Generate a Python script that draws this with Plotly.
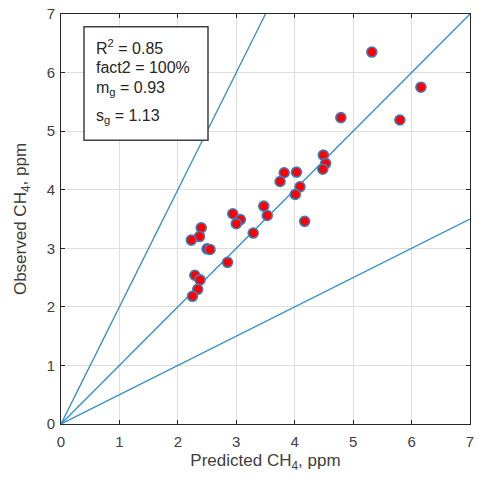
import plotly.graph_objects as go

# Data
predicted = [4.49, 4.53, 4.48, 3.82, 4.03, 3.75, 4.09, 4.01, 4.17, 3.47, 3.53, 2.94, 3.07, 3.00,
             3.29, 2.40, 2.37, 2.23, 2.50, 2.55, 2.85, 2.29, 2.38, 2.34, 2.25, 5.32, 6.16, 4.79, 5.80]
observed = [4.59, 4.45, 4.35, 4.29, 4.30, 4.14, 4.05, 3.92, 3.46, 3.72, 3.56, 3.59, 3.49, 3.42,
            3.26, 3.35, 3.20, 3.14, 2.99, 2.98, 2.76, 2.54, 2.46, 2.30, 2.18, 6.35, 5.75, 5.23, 5.19]
ref_slopes = [1.0, 2.0, 0.5]
axis_max = 7
ticks = list(range(0, 8))
stats_lines = ["R<sup>2</sup> = 0.85", "fact2 = 100%", "m<sub>g</sub> = 0.93", "s<sub>g</sub> = 1.13"]

line_color = "#2f8ccd"
font_family = "Liberation Sans, Arial, sans-serif"
fig = go.Figure()

for s in ref_slopes:
    xe = min(axis_max, axis_max / s)
    fig.add_trace(go.Scatter(x=[0, xe], y=[0, s * xe], mode="lines",
                             line=dict(color=line_color, width=1.3), showlegend=False,
                             hoverinfo="skip"))

fig.add_trace(go.Scatter(x=predicted, y=observed, mode="markers",
                         marker=dict(size=10, color="#ff0000",
                                     line=dict(color="#3a7fc0", width=1.6)),
                         showlegend=False))

axis_common = dict(range=[0, axis_max], tickvals=ticks, showgrid=True, gridcolor="#dedede",
                   gridwidth=1, showline=True, linecolor="#262626", linewidth=1, mirror="ticks",
                   ticks="inside", ticklen=4, tickcolor="#262626", zeroline=False,
                   automargin=False,
                   tickfont=dict(size=15, color="#404040", family=font_family))

fig.update_xaxes(**axis_common, ticklabelstandoff=4,
                 title=dict(text="Predicted CH<sub>4</sub>, ppm", font=dict(size=17, color="#404040", family=font_family), standoff=5))
fig.update_yaxes(**axis_common, ticklabelstandoff=2,
                 title=dict(text="Observed CH<sub>4</sub>, ppm", font=dict(size=17, color="#404040", family=font_family), standoff=15))

# stats box
fig.add_shape(type="rect", xref="paper", yref="paper", x0=0.0562, x1=0.3594, y0=0.6923, y1=0.9689,
              line=dict(color="#404040", width=1.5), fillcolor="white", layer="above")
line_y = [0.9194, 0.8693, 0.8193, 0.7509]
for txt, yy in zip(stats_lines, line_y):
    fig.add_annotation(x=0.0807, y=yy, xref="paper", yref="paper", xanchor="left", yanchor="middle",
                       text=txt, showarrow=False, align="left",
                       font=dict(size=16, color="#262626", family=font_family))

fig.update_layout(width=479, height=481, margin=dict(l=61, r=9, t=14, b=57),
                  plot_bgcolor="white", paper_bgcolor="white")

fig.write_html("out.html")
